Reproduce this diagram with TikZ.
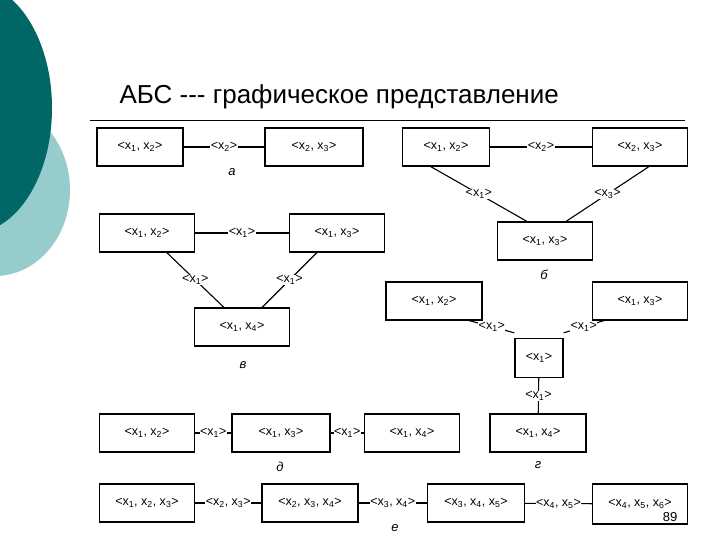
\documentclass[tikz,border=0pt]{standalone}
\usepackage{fontspec}
\setmainfont{Liberation Sans}
\newcommand\xs[1]{x\textsubscript{#1}}
\begin{document}
\begin{tikzpicture}[x=1pt,y=-1pt,
  bx/.style={draw,line width=1.3pt,minimum width=#1,minimum height=38pt,inner sep=0pt,font=\fontsize{12.5}{13}\selectfont},
  bx/.default=95pt,
  lb/.style={fill=white,inner sep=0.5pt,font=\fontsize{12.5}{13}\selectfont},
  capt/.style={font=\fontsize{13}{14}\selectfont\itshape},
  ln/.style={line width=1.1pt}]
\definecolor{darkteal}{RGB}{0,102,102}
\definecolor{lightteal}{RGB}{150,204,204}
\useasboundingbox (0,0) rectangle (720,540);
\fill[white] (0,0) rectangle (720,540);
\fill[lightteal] (-5,190) ellipse [x radius=75, y radius=86];
\fill[darkteal] (-28,108) ellipse [x radius=80, y radius=125];
\node[anchor=base west,font=\fontsize{26}{28}\selectfont] (title) at (116,104) {АБС {-}{-}{-} графическое представление};
\draw[line width=0.6pt] (90,120) coordinate (t1) -- (685,120) coordinate (t2);
% a
\node[bx=86pt] (a1) at (140,147) {<\xs1, \xs2>};
\node[bx=98pt] (a2) at (314,147) {<\xs2, \xs3>};
\draw[ln] (a1) -- node[lb]{<\xs2>} (a2);
\node[capt] (ca) at (232,172) {а};
% b
\node[bx=87pt] (b1) at (446,147) {<\xs1, \xs2>};
\node[bx] (b2) at (640,147) {<\xs2, \xs3>};
\node[bx] (b3) at (545,241) {<\xs1, \xs3>};
\draw[ln] (b1) -- node[lb]{<\xs2>} (b2);
\draw[ln] ([xshift=29pt]b1.south west) -- node[lb]{<\xs1>} ([xshift=30pt]b3.north west);
\draw[ln] ([xshift=57pt]b2.south west) -- node[lb]{<\xs3>} ([xshift=-27pt]b3.north east);
\node[capt] (cb) at (544,275) {б};
% v
\node[bx] (v1) at (147,233) {<\xs1, \xs2>};
\node[bx] (v2) at (337,233) {<\xs1, \xs3>};
\node[bx] (v3) at (242,327) {<\xs1, \xs4>};
\draw[ln] (v1) -- node[lb]{<\xs1>} (v2);
\draw[ln] ([xshift=68pt]v1.south west) -- node[lb]{<\xs1>} ([xshift=30pt]v3.north west);
\draw[ln] ([xshift=28pt]v2.south west) -- node[lb]{<\xs1>} ([xshift=-28pt]v3.north east);
\node[capt] (cv) at (243,365) {в};
% g
\node[bx=96pt] (g1) at (434,301) {<\xs1, \xs2>};
\node[bx] (g2) at (640,301) {<\xs1, \xs3>};
\node[bx=48pt,minimum height=39pt] (g3) at (539,358) {<\xs1>};
\node[bx=96pt] (g4) at (538,433) {<\xs1, \xs4>};
\draw[ln] ([xshift=84pt]g1.south west) -- node[lb]{<\xs1>} ([yshift=5pt]g3.north west);
\draw[ln] ([xshift=12pt]g2.south west) -- node[lb]{<\xs1>} ([yshift=5pt]g3.north east);
\draw[ln] (g3) -- node[lb]{<\xs1>} (g4);
\node[capt] (cg) at (538,465) {г};
% d
\node[bx] (d1) at (147,433) {<\xs1, \xs2>};
\node[bx=98pt] (d2) at (281,433) {<\xs1, \xs3>};
\node[bx] (d3) at (412,433) {<\xs1, \xs4>};
\draw[ln] (d1) -- node[lb]{<\xs1>} (d2);
\draw[ln] (d2) -- node[lb]{<\xs1>} (d3);
\node[capt] (cd) at (280,467) {д};
% e
\node[bx] (e1) at (147,503) {<\xs1, \xs2, \xs3>};
\node[bx=96pt] (e2) at (310,503) {<\xs2, \xs3, \xs4>};
\node[bx=97pt] (e3) at (476,503) {<\xs3, \xs4, \xs5>};
\node[bx,minimum height=40pt] (e4) at (640,504) {<\xs4, \xs5, \xs6>};
\draw[ln] (e1) -- node[lb]{<\xs2, \xs3>} (e2);
\draw[ln] (e2) -- node[lb]{<\xs3, \xs4>} (e3);
\draw[ln] (e3) -- node[lb]{<\xs4, \xs5>} (e4);
\node[capt] (ce) at (395,528) {е};
\node[font=\fontsize{13}{14}\selectfont] (pg) at (670,517) {89};
\end{tikzpicture}
\end{document}
